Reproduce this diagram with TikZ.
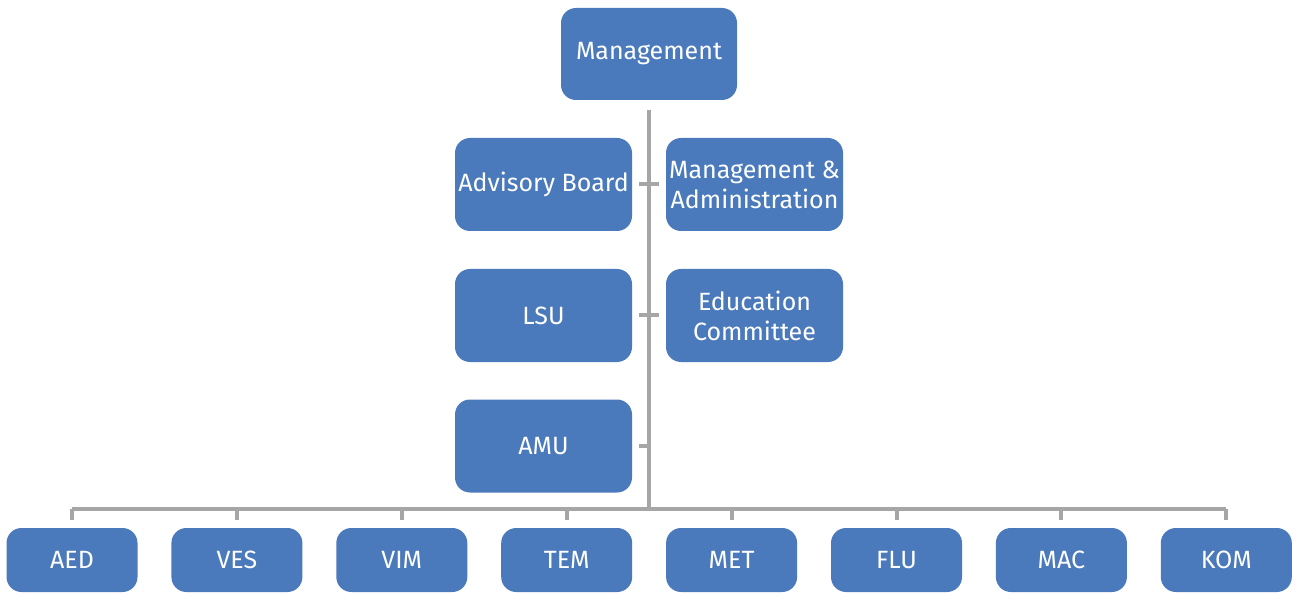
\documentclass[tikz,border=0pt]{standalone}
\usepackage{fontspec}
\setmainfont{Fira Sans}
\definecolor{boxblue}{HTML}{4A7ABC}
\definecolor{linegray}{HTML}{A6A6A6}
\begin{document}
\begin{tikzpicture}[x=1pt,y=-1pt,
  unit/.style={fill=boxblue, rounded corners=15pt, text=white, align=center,
    inner sep=0pt, font=\fontsize{25}{30}\selectfont},
  topbox/.style={unit, minimum width=177pt, minimum height=93pt},
  dept/.style={unit, minimum width=131pt, minimum height=64pt},
  link/.style={draw=linegray, line width=4pt}]
\useasboundingbox (0,0) rectangle (1292,593);

% management and staff units
\node[topbox, minimum width=176pt, minimum height=92pt] (mgmt) at (649,54) {Management};
\node[topbox] (adv)  at (543.5,184.5) {Advisory Board};
\node[topbox] (madm) at (754.5,184.5) {Management \&\\Administration};
\node[topbox] (lsu)  at (543.5,315.5) {LSU};
\node[topbox] (edu)  at (754.5,315.5) {Education\\Committee};
\node[topbox] (amu)  at (543.5,446) {AMU};

% departments
\foreach \name [count=\i from 0] in {AED,VES,VIM,TEM,MET,FLU,MAC,KOM}
  \node[dept] (\name) at (72+\i*164.9,560) {\name};

% trunk from management down to the department bus
\coordinate (hub) at (649,509);
\draw[link] ([yshift=-10pt]mgmt.south) -- (hub);

% side ticks on the trunk
\draw[link] ([xshift=7pt]adv.east) -- ([xshift=-7pt]madm.west);
\draw[link] ([xshift=7pt]lsu.east) -- ([xshift=-7pt]edu.west);
\draw[link] ([xshift=7pt]amu.east) -- ([xshift=17pt]amu.east);

% department bus and drops
\draw[link] ([yshift=19pt]AED.north) -- ([yshift=19pt]KOM.north);
\foreach \name in {AED,VES,VIM,TEM,MET,FLU,MAC,KOM}
  \draw[link] ([yshift=19pt]\name.north) -- ([yshift=8pt]\name.north);
\end{tikzpicture}
\end{document}
